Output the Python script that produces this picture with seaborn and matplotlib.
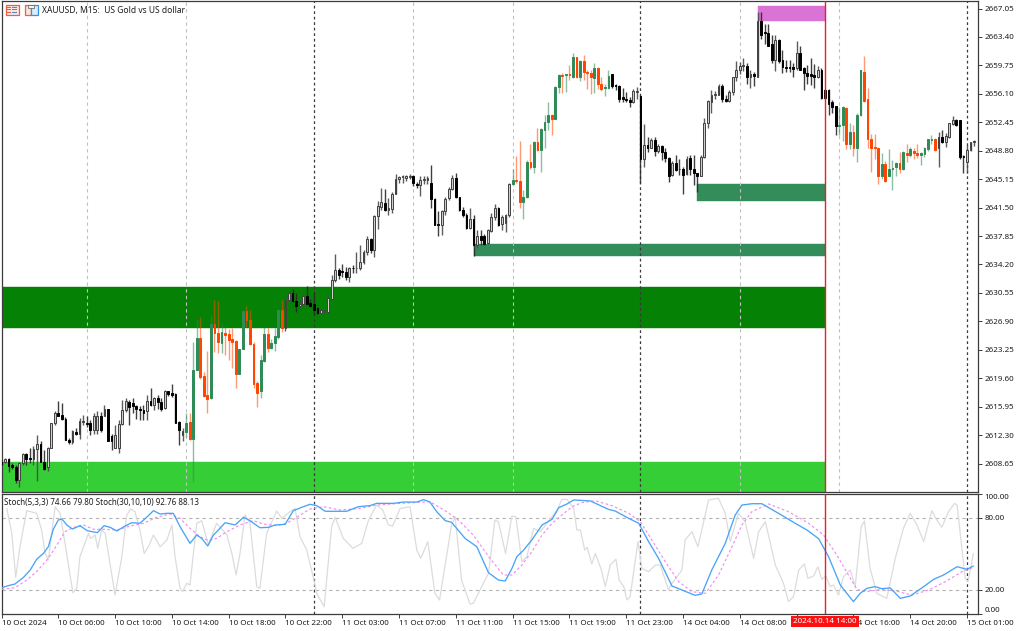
#!/usr/bin/env python3
"""XAUUSD M15 candles with supply/demand zones and two stochastics below."""

import numpy as np
import pandas as pd
import matplotlib
matplotlib.use("Agg")
import matplotlib.pyplot as plt
import seaborn as sns
from matplotlib.patches import Rectangle

# ---------- data ----------
opens = [
    2608.8,2608.9,2609.2,2608.5,2608.2,2606.6,2608.7,2609.9,2609.3,2609.2,
    2610.5,2611.2,2608.9,2608.2,2610.7,2613.8,2615.2,2614.9,2614.4,2611.7,
    2611.4,2612.7,2612.5,2614.0,2613.9,2613.8,2613.0,2613.0,2614.8,2614.8,
    2615.6,2612.2,2610.7,2610.7,2613.7,2615.5,2616.6,2616.4,2616.0,2615.7,
    2615.5,2615.4,2616.7,2616.2,2617.0,2616.6,2615.8,2617.9,2617.7,2617.6,
    2614.0,2612.3,2612.7,2614.0,2611.8,2620.7,2624.8,2619.9,2617.4,2617.0,
    2626.6,2625.4,2624.1,2625.4,2625.3,2624.6,2624.4,2620.2,2623.3,2628.2,
    2627.1,2624.0,2619.0,2617.9,2621.8,2625.3,2623.5,2624.1,2624.9,2628.4,
    2626.1,2629.6,2630.6,2629.5,2628.9,2629.1,2630.1,2629.2,2629.1,2628.6,
    2628.0,2628.1,2628.1,2629.8,2632.2,2633.5,2633.3,2633.2,2632.6,2633.8,
    2633.7,2633.8,2634.5,2635.8,2637.5,2636.0,2640.4,2641.6,2642.1,2641.2,
    2641.3,2643.3,2645.2,2645.4,2645.3,2645.4,2645.5,2644.5,2644.4,2645.1,
    2645.1,2644.6,2642.6,2639.4,2639.3,2641.0,2642.7,2643.9,2645.3,2642.8,
    2641.2,2640.5,2638.9,2640.1,2636.7,2637.8,2637.8,2636.9,2638.5,2640.3,
    2641.5,2639.4,2639.5,2640.5,2644.5,2645.0,2644.9,2642.2,2642.8,2647.4,
    2646.7,2649.9,2648.9,2651.5,2652.5,2653.4,2652.9,2657.0,2658.5,2658.5,
    2658.6,2658.3,2660.8,2658.3,2660.3,2658.9,2658.8,2658.1,2659.4,2657.3,
    2656.8,2656.9,2658.6,2657.2,2657.1,2655.7,2655.5,2655.3,2655.1,2656.4,
    2655.8,2647.8,2649.5,2649.2,2650.2,2648.8,2649.4,2648.6,2647.9,2645.7,
    2647.2,2646.5,2646.5,2645.8,2647.9,2646.4,2645.9,2645.6,2648.0,2652.3,
    2655.1,2656.0,2656.0,2657.1,2655.4,2655.2,2656.3,2658.2,2659.2,2659.7,
    2659.7,2658.3,2658.7,2658.3,2665.5,2664.0,2663.9,2662.5,2660.4,2663.0,
    2660.4,2659.6,2659.5,2659.5,2659.4,2661.4,2659.4,2658.8,2658.6,2658.5,
    2658.3,2659.2,2656.6,2656.6,2655.0,2654.5,2652.0,2652.1,2654.3,2649.7,
    2651.2,2649.1,2653.4,2658.9,2655.4,2650.3,2649.3,2649.2,2645.5,2647.1,
    2645.6,2646.5,2646.7,2647.2,2646.4,2648.5,2648.3,2648.8,2648.5,2648.2,
    2648.4,2649.0,2650.2,2650.3,2649.1,2650.5,2649.9,2650.6,2652.2,2652.7,
    2652.7,2648.1,2647.3,2648.9,2649.9,
]
highs = [
    2609.0,2609.3,2609.3,2608.7,2608.5,2608.8,2610.0,2610.0,2610.6,2610.9,
    2612.3,2611.5,2610.4,2610.8,2613.9,2615.4,2616.7,2616.4,2614.6,2611.9,
    2613.0,2613.2,2614.5,2614.9,2614.7,2614.2,2615.1,2615.4,2615.3,2616.2,
    2615.7,2612.5,2613.6,2614.2,2616.8,2617.0,2616.8,2617.1,2616.2,2616.0,
    2616.2,2617.4,2618.3,2617.2,2617.4,2617.1,2618.1,2618.0,2618.8,2617.7,
    2614.1,2613.2,2615.1,2615.2,2624.3,2627.1,2627.5,2620.4,2623.1,2627.7,
    2629.6,2629.5,2626.6,2626.2,2625.9,2626.0,2624.5,2623.4,2628.2,2628.9,
    2628.4,2624.3,2619.2,2622.6,2626.2,2626.1,2624.7,2626.1,2628.4,2629.7,
    2630.3,2630.8,2631.1,2630.5,2629.6,2630.5,2631.4,2629.8,2630.7,2628.8,
    2628.4,2628.3,2630.1,2632.8,2635.6,2633.7,2634.2,2633.9,2633.9,2634.1,
    2635.8,2636.7,2636.1,2637.9,2637.6,2640.5,2642.3,2644.0,2643.9,2642.7,
    2643.5,2645.8,2645.5,2645.7,2645.7,2645.8,2645.7,2644.8,2645.5,2645.5,
    2645.5,2647.0,2642.7,2641.0,2641.2,2642.8,2644.2,2645.7,2645.9,2642.9,
    2641.6,2640.8,2641.5,2640.5,2638.6,2638.6,2638.1,2638.7,2640.8,2642.0,
    2641.6,2640.5,2640.7,2644.6,2646.4,2648.1,2650.0,2643.7,2647.6,2649.7,
    2650.0,2651.7,2651.7,2653.4,2655.1,2653.5,2657.1,2658.6,2658.8,2658.7,
    2659.8,2661.3,2660.8,2660.4,2661.1,2659.2,2659.2,2660.0,2659.5,2658.3,
    2657.4,2659.1,2658.7,2657.4,2657.2,2656.9,2656.4,2655.7,2656.7,2657.0,
    2655.9,2652.2,2650.5,2650.4,2650.5,2649.7,2649.5,2649.1,2648.0,2647.5,
    2648.2,2647.7,2646.7,2648.1,2648.2,2648.3,2646.0,2648.2,2653.0,2655.3,
    2656.6,2656.5,2657.3,2657.3,2656.0,2656.6,2658.3,2660.3,2660.2,2660.7,
    2660.0,2659.2,2658.9,2666.6,2666.6,2665.1,2665.0,2663.7,2663.6,2663.2,
    2661.7,2660.4,2660.4,2660.1,2662.9,2662.3,2659.6,2659.8,2660.7,2659.9,
    2659.7,2659.4,2656.7,2656.7,2655.3,2654.5,2654.4,2654.5,2654.4,2652.3,
    2652.1,2653.7,2659.2,2660.9,2656.8,2650.9,2651.0,2649.3,2648.5,2647.5,
    2649.0,2647.6,2647.3,2648.6,2648.8,2649.7,2649.3,2649.1,2649.7,2648.7,
    2649.3,2650.3,2650.8,2650.4,2651.2,2651.4,2651.1,2652.4,2653.3,2652.9,
    2652.7,2648.2,2649.5,2649.9,2650.2,
]
lows = [
    2608.5,2608.7,2607.6,2608.0,2606.2,2605.7,2608.5,2608.5,2608.7,2608.5,
    2606.4,2608.8,2607.8,2607.7,2610.6,2613.6,2614.7,2614.2,2611.7,2611.2,
    2611.2,2612.3,2611.8,2613.6,2613.4,2612.3,2612.5,2612.5,2612.7,2614.7,
    2611.5,2610.4,2610.6,2610.0,2613.6,2615.3,2613.6,2615.1,2614.4,2614.2,
    2614.2,2614.2,2616.0,2615.5,2615.7,2615.4,2615.6,2617.3,2617.2,2613.8,
    2611.0,2611.5,2612.1,2611.7,2606.3,2620.6,2619.5,2617.2,2615.2,2616.9,
    2623.0,2622.8,2622.9,2622.6,2621.9,2620.9,2618.4,2620.1,2623.3,2626.2,
    2623.9,2618.4,2615.9,2617.0,2621.7,2623.0,2623.3,2623.1,2624.6,2625.5,
    2625.7,2629.4,2629.4,2628.1,2628.8,2628.9,2629.0,2628.7,2627.7,2627.8,
    2627.8,2628.0,2628.0,2629.8,2632.0,2632.4,2632.6,2632.2,2631.9,2633.1,
    2633.1,2633.5,2634.3,2635.4,2635.7,2635.2,2638.8,2641.2,2641.1,2640.5,
    2640.8,2643.2,2644.6,2644.6,2644.9,2645.2,2644.3,2644.0,2643.0,2644.5,
    2644.5,2641.4,2639.3,2637.9,2638.0,2640.5,2642.5,2643.8,2642.7,2641.0,
    2640.3,2638.8,2638.8,2635.3,2636.3,2636.7,2636.7,2636.8,2638.4,2639.9,
    2639.2,2638.6,2638.4,2640.3,2644.4,2644.7,2641.4,2640.0,2642.7,2646.4,
    2645.9,2648.8,2646.1,2649.1,2651.5,2650.8,2652.9,2656.2,2656.2,2656.4,
    2657.9,2658.1,2658.1,2657.7,2657.9,2656.7,2656.1,2656.2,2656.7,2656.5,
    2655.8,2656.7,2656.8,2656.6,2655.0,2655.1,2655.0,2654.4,2654.9,2655.4,
    2644.6,2646.7,2648.7,2649.1,2648.1,2648.5,2647.6,2647.4,2644.8,2645.5,
    2646.2,2645.7,2643.3,2645.7,2645.7,2644.4,2643.5,2645.5,2647.9,2651.7,
    2653.6,2655.4,2655.9,2655.0,2655.0,2655.1,2656.0,2657.7,2658.7,2659.0,
    2657.4,2656.9,2657.1,2658.2,2663.2,2662.5,2662.2,2660.1,2659.0,2660.1,
    2658.8,2658.9,2658.9,2658.2,2659.2,2659.2,2656.6,2657.3,2657.2,2656.8,
    2658.1,2655.5,2655.5,2653.4,2653.6,2650.8,2650.8,2650.1,2649.0,2649.0,
    2648.1,2647.4,2653.2,2655.1,2649.1,2646.1,2647.8,2644.5,2645.2,2644.8,
    2645.5,2643.7,2645.6,2645.9,2646.3,2647.3,2648.0,2647.8,2647.9,2647.0,
    2648.0,2648.8,2649.7,2648.8,2646.7,2649.8,2649.3,2650.4,2652.1,2652.0,
    2647.8,2645.9,2645.9,2648.8,2649.4,
]
closes = [
    2608.6,2609.2,2608.3,2608.2,2606.6,2608.7,2609.9,2609.2,2609.2,2610.5,
    2611.2,2608.9,2608.0,2610.7,2613.8,2615.2,2614.8,2614.4,2611.7,2611.4,
    2612.8,2612.5,2614.1,2614.1,2613.7,2613.0,2614.8,2614.8,2613.0,2615.6,
    2611.6,2611.6,2612.3,2613.7,2615.5,2616.7,2615.9,2616.0,2615.6,2615.5,
    2615.2,2616.7,2616.2,2617.0,2616.5,2615.7,2617.9,2617.6,2617.4,2613.9,
    2613.0,2612.8,2613.9,2611.8,2620.7,2624.8,2619.8,2617.3,2616.9,2626.5,
    2625.4,2624.2,2625.5,2625.1,2624.5,2624.2,2620.2,2623.3,2628.2,2627.1,
    2624.0,2618.9,2617.7,2621.9,2625.3,2623.5,2624.1,2625.0,2628.4,2626.1,
    2629.6,2630.6,2629.5,2628.9,2629.1,2630.1,2629.1,2628.9,2628.4,2628.0,
    2628.3,2628.3,2629.9,2632.2,2633.5,2632.8,2633.2,2632.6,2633.8,2633.7,
    2633.8,2634.5,2635.8,2637.5,2636.0,2640.4,2641.7,2642.2,2641.2,2641.4,
    2643.3,2645.2,2645.4,2645.5,2645.5,2645.5,2644.6,2644.4,2645.1,2645.2,
    2645.3,2642.6,2639.3,2639.3,2641.0,2642.6,2643.9,2645.3,2642.8,2641.2,
    2640.5,2638.9,2640.1,2636.7,2637.8,2637.3,2636.8,2638.6,2640.3,2641.4,
    2639.3,2640.3,2640.5,2644.5,2645.1,2644.9,2642.2,2642.8,2647.4,2646.7,
    2649.9,2648.9,2651.6,2652.5,2653.4,2652.9,2657.0,2658.5,2658.4,2658.6,
    2658.5,2660.8,2658.3,2660.3,2658.9,2658.8,2658.2,2659.4,2657.3,2656.7,
    2657.0,2658.4,2657.1,2657.1,2655.5,2655.4,2655.3,2655.1,2656.5,2656.5,
    2647.8,2649.5,2649.2,2650.2,2648.8,2649.4,2648.7,2647.9,2645.6,2647.2,
    2646.3,2646.4,2645.7,2647.8,2646.4,2645.9,2645.6,2648.0,2652.4,2655.2,
    2656.0,2656.1,2657.1,2655.4,2655.2,2656.3,2658.2,2659.2,2659.7,2659.8,
    2658.3,2658.7,2658.4,2665.4,2663.7,2663.9,2662.3,2660.4,2663.0,2660.3,
    2659.6,2659.4,2659.4,2659.3,2661.4,2659.2,2658.8,2658.4,2658.4,2658.3,
    2659.2,2655.6,2655.6,2654.8,2654.4,2652.0,2652.1,2654.4,2649.7,2651.2,
    2649.1,2653.4,2659.1,2655.2,2650.3,2649.2,2649.2,2645.5,2647.1,2644.9,
    2646.5,2646.6,2647.2,2646.4,2648.6,2648.3,2649.0,2648.5,2648.3,2648.5,
    2649.1,2650.3,2650.3,2648.9,2650.5,2649.9,2650.7,2652.3,2652.7,2652.1,
    2648.0,2648.0,2648.9,2649.9,2650.0,
]
session_spans = [(52, 79), (144, 171), (236, 263)]

# zones: first bar, last bar, low, high, colour
zone_first = [0, 0, 133, 196, 213]
zone_last = [232, 232, 232, 232, 232]
zone_low = [2604.0, 2626.1, 2635.3, 2642.3, 2665.4]
zone_high = [2608.9, 2631.3, 2636.8, 2644.5, 2667.4]
zone_colors = ["#32cd32", "#008000", "#2e8b57", "#2e8b57", "#da70d6"]

main_bars = [
    0.1,1.5,3.8,6.2,8.1,9.9,11.8,13.2,14.6,16,17,18.4,20,22.1,24.2,27,28.9,30.6,32.5,34.8,
    36.7,39,40.9,42.8,44.7,46.6,48.4,50.3,53.1,55,56.4,58.1,59.7,61.1,63,65.8,68.2,70,72.8,
    75.2,77.1,79.9,82.2,84.6,86.9,88.8,91.2,97.3,100.5,103.8,105.7,110.4,113.2,117,118.9,
    120.7,122.6,125,126.8,130.6,133.9,137.2,140,141.9,143.8,145.2,147.1,149.4,152.3,155.1,
    157,159.3,161.2,165.9,171,172.9,176.7,179.5,182.3,185.1,188.9,191.7,195.4,197.3,200.1,
    203.9,206.7,208.6,211.4,214.2,218.9,223.6,226.9,230.2,233,236.3,240,241.9,243.8,246.1,
    248,250.4,253.2,256,259.8,262.6,265.4,269.2,272,273.8,
]
main_values = [
    21.9,23.3,25,30.5,36.7,45.6,50.5,56.1,70.6,78.3,79.2,74.2,70.8,73.6,69.4,67.8,73.6,72.2,69.2,73.3,
    76.1,75.6,80.6,86.1,83.3,83.9,83.9,72.8,58.9,65.8,63,56.7,65.8,70,76.1,74.2,80.6,77.8,71.9,
    72.2,74.2,74.7,86.1,88.9,91.4,90.3,85.6,85.6,89.4,90.3,92.2,92.2,93.3,93.3,95.3,
    93.3,85.3,77.8,76.4,63,56.1,34.4,28.3,27.5,38,47.8,53.3,61.7,74.2,78.9,
    88.6,91.7,95,94.2,87.2,85.8,79.7,75.6,60.3,46.4,23.3,20,15.6,16.7,36.7,
    58.9,82.5,90.8,91.9,91.9,83.9,75.6,70,62.8,47.8,24.2,10.3,17.2,21.4,22.8,
    21.1,21.7,13,15,22.8,28.9,32.5,39.4,37.2,40,
]
signal_bars = [
    0.1,3.8,7.1,9.9,13.2,15.6,17.9,20.3,23.1,25.9,28.7,32.5,36.2,40,43.7,47.5,50.3,53.1,55.9,58.3,
    60.6,63.5,67.2,71,73.8,77.5,80.3,83.2,86.9,90.7,95.4,101,105.7,112.3,120.7,125.4,128.7,132.9,
    137.6,141.4,143.8,146.6,149.4,152.3,155.1,157.9,160.7,163.5,167.3,172,176.7,180,183.2,187,190.8,
    194.5,198.3,202,205.8,208.6,211.4,216.1,221.7,227.4,231.6,235.3,238.6,241,243.3,248,252.7,256.5,
    261.2,265.9,270.6,273.8,
]
signal_values = [
    20.5,21.9,28.3,35.3,46.4,57.5,68.6,72.2,74.2,70.6,70.6,70,73.3,75.6,80.6,83.3,79.7,71.4,64.4,61.1,
    63,68.6,74.2,77.8,75,73.6,75.6,80.6,87.5,89.4,86.7,88,90.8,92.2,93.6,85.3,78.3,65.8,
    46.4,32.5,32.5,40.8,51.9,65.8,75.6,82.5,89.4,92.8,94.4,90.3,83.9,76.9,61.7,43.6,26.9,
    18.6,17.2,32.5,56.1,74.2,85.3,91.7,85.3,75.6,65.8,49.2,32.5,20.5,18.6,20.5,18.6,15.8,
    20,26.9,35.3,38.9,
]
fast_bars = [
    1.5,2.9,4,5.2,7.1,9.9,11.3,12.3,13.2,15.1,16.5,17.9,20.1,21.2,22.1,24.5,25.1,26.4,27.1,28.2,29.2,
    32,33.9,35.3,36.4,37.6,39,40.2,41.4,42.8,44.7,46.6,48,48.9,50.3,51,52.2,53.1,55,56.4,58.3,60.6,
    63.5,64.9,66.1,67.2,68.6,70,71.9,72.8,74.7,77.5,79,81.3,82.7,84.1,86,88,88.8,90.9,93,94,96.3,99,
    101.5,103.4,105.7,107.4,109,110.2,112.3,115.1,117,118.1,120.1,122.1,123.4,126.8,127.8,129.6,132,
    132.9,134.8,137.2,139,140,142,143.8,144.9,146.6,148,149.9,151.8,153.7,156.5,157.9,159.3,161.2,
    162.1,163.1,164.3,165,166.3,167.3,169,170.1,171.5,173.1,174,175.3,176.2,177.1,179.3,180.4,182.3,
    184.2,185.6,187.9,188.9,191.7,192.6,194.5,196.2,199.2,202,203.9,205.3,207.6,209.5,211.9,213.3,
    215.2,218,220.3,221.7,223.1,224.6,226.2,227.2,228.8,230,231.1,232.2,233.5,234.4,235.8,237.2,239.1,
    240.5,242.2,243.1,244.7,246.6,249.4,251.8,254.1,256,257.9,259.8,262.1,263.5,264.9,266.8,268.5,
    269.2,271.5,272.3,273.8,
]
fast_values = [
    88,67.2,30.5,56.1,86.1,83.9,70,50.5,45,89.4,83.9,58.9,17.8,21.4,47.8,67.2,63,65.8,54.7,70,67.2,
    15.8,47.8,82.5,87.5,85.3,70,50.5,56.1,65.8,56.1,61.7,74.2,47.8,21.4,18.6,25.6,24.2,75.6,77.8,57.5,75.6,
    65.8,50.5,32.5,50.5,82.5,75.6,22.8,21.4,67.2,85.8,79.7,85.3,88,64.4,53.3,28.3,17.2,6.1,72.8,80.6,63,54.7,
    58.9,78.3,90.8,86.7,74.2,73.3,88,89.4,53.3,46.4,60.3,17.2,11.7,74.2,81.1,28.3,8.3,
    8.9,20,33.9,78.3,76.9,50.5,81.7,81.1,43.6,47.8,71.4,68.6,75.6,86.7,95.5,95.5,88,
    70,70,53.3,55.6,41.7,50.5,36.7,22.8,40.8,45.6,28.3,22.8,11.7,14.4,60.3,38,35.3,
    40.8,40.8,20,25.6,36.7,61.7,68.6,56.1,95,96.4,83.9,60.3,83.9,76.9,46.4,68.6,
    76.9,40.8,25.6,10.3,14.4,36.7,41.7,29.7,31.7,39.4,28.9,31.7,22.8,24.2,15.8,31.1,36.7,
    22.8,72.8,77.5,38,17.2,13,46.4,71.4,83.9,74.2,60.3,86.1,78.3,72.2,85.3,92.2,
    90.8,29.7,26.9,50.5,
]

price_ticks = [2667.05,2663.40,2659.75,2656.10,2652.45,2648.80,2645.15,2641.50,2637.85,
               2634.20,2630.55,2626.90,2623.25,2619.60,2615.95,2612.30,2608.65]
stoch_ticks = [0, 20, 80, 100]
time_ticks = list(range(0, 273, 16))
# the 12:00 tick of 14 Oct sits under the crosshair stamp, so it carries no text
time_labels = ["10 Oct 2024","10 Oct 06:00","10 Oct 10:00","10 Oct 14:00","10 Oct 18:00","10 Oct 22:00",
               "11 Oct 03:00","11 Oct 07:00","11 Oct 11:00","11 Oct 15:00","11 Oct 19:00","11 Oct 23:00",
               "14 Oct 04:00","14 Oct 08:00","","14 Oct 16:00","14 Oct 20:00","15 Oct 01:00"]
light_separators = [24, 52, 116, 144, 208, 236]
dark_separators = [88, 180, 272]
crosshair_bar = 232

# ---------- figure ----------
W, H = 1024, 631
sns.set_style("white")
plt.rcParams['font.family'] = ['Noto Sans', 'DejaVu Sans']
plt.rcParams['font.size'] = 6
TEXT = "#1c1c1c"
SPINE = "#3c3c3c"
LABEL = 5.75

fig = plt.figure(figsize=(W/100, H/100), dpi=100)
ax = fig.add_axes([1.5/W, 1 - 492/H, 976.5/W, 491.5/H])
sub = fig.add_axes([1.5/W, 1 - 614/H, 976.5/W, 120/H], sharex=ax)

df = pd.DataFrame({"open": opens, "high": highs, "low": lows, "close": closes})
df["bar"] = np.arange(len(df))
df["up"] = df["close"] >= df["open"]
df["session"] = False
for a, b in session_spans:
    df.loc[df["bar"].between(a, b), "session"] = True

# zones sit under everything else
for first, last, lo, hi, col in zip(zone_first, zone_last, zone_low, zone_high, zone_colors):
    ax.add_patch(Rectangle((first, lo), last - first, hi - lo, fc=col, ec=col, lw=0.3, alpha=0.98, zorder=1))

ax.vlines(light_separators, 0, 1, transform=ax.get_xaxis_transform(), colors="#c0c0c0", lw=0.8,
          linestyles=(0, (3, 3)), zorder=2)
for a_ in (ax, sub):
    a_.vlines(dark_separators, 0, 1, transform=a_.get_xaxis_transform(), colors="#3a3a3a", lw=0.9,
              linestyles=(0, (2.2, 2.2)), zorder=2)

# candles: (up?, session?) -> wick colour, wick alpha, face, edge
styles = {
    (True, False): ("#4a4a4a", 0.9, "#cfcfcf", "#404040"),
    (False, False): ("#2a2a2a", 0.9, "#000000", "#000000"),
    (True, True): ("#2e8b57", 0.55, "#2e8b57", "#2e8b57"),
    (False, True): ("#ff4500", 0.55, "#ff4500", "#ff4500"),
}
for (up, session), part in df.groupby(["up", "session"]):
    wick, wick_alpha, face, edge = styles[(up, session)]
    ax.vlines(part["bar"], part["low"], part["high"], colors=wick, lw=1.0, alpha=wick_alpha, zorder=3)
    bottom = part[["open", "close"]].min(axis=1)
    height = (part["close"] - part["open"]).abs()
    ax.bar(part["bar"], height, bottom=bottom, width=0.5, color=face, edgecolor=edge, lw=0.7, zorder=4)

# stochastics
sub.axhline(80, color="#b4b4b4", lw=0.8, ls=(0, (3, 3)), zorder=1)
sub.axhline(20, color="#b4b4b4", lw=0.8, ls=(0, (3, 3)), zorder=1)
sns.lineplot(x=fast_bars, y=fast_values, ax=sub, color="#dcdcdc", lw=0.9, sort=False, estimator=None, zorder=2)
sns.lineplot(x=signal_bars, y=signal_values, ax=sub, color="#f08cf0", lw=0.85, sort=False, estimator=None,
             linestyle=(0, (2.2, 2)), zorder=3)
sns.lineplot(x=main_bars, y=main_values, ax=sub, color="#48a4f8", lw=0.95, sort=False, estimator=None, zorder=4)

for a_ in (ax, sub):
    a_.axvline(crosshair_bar, color="#f01c24", lw=1.0, zorder=6)

# axes
ax.set_xlim(0, 275.1)
ax.set_ylim(2605.0, 2668.08)
sub.set_ylim(0, 100)
for a_ in (ax, sub):
    a_.yaxis.tick_right()
    a_.grid(False)
    a_.set_xlabel("")
    a_.set_ylabel("")
    for s in a_.spines.values():
        s.set_visible(True)
        s.set_color(SPINE)
        s.set_linewidth(0.9)
    a_.tick_params(axis='y', length=3, width=0.7, color=SPINE, labelsize=LABEL, labelcolor=TEXT, pad=1.5,
                   right=True, left=False)

ax.set_yticks(price_ticks)
ax.set_yticklabels([f"{p:.2f}" for p in price_ticks])
sub.set_yticks(stoch_ticks)
sub.set_yticklabels([f"{s:.2f}" for s in stoch_ticks])
for lab, tick in zip(sub.get_yticklabels(), stoch_ticks):
    if tick == 100:
        lab.set_va("top")
    elif tick == 0:
        lab.set_va("bottom")

ax.tick_params(axis='x', bottom=False, labelbottom=False)
sub.set_xticks(time_ticks)
sub.set_xticklabels(time_labels, ha="left")
sub.tick_params(axis='x', length=3, width=0.7, color=SPINE, labelsize=LABEL, labelcolor=TEXT, pad=1.5, bottom=True)

# header, indicator caption and crosshair time stamp
fig.text(41.5/W, 1 - 10/H, "XAUUSD, M15:  US Gold vs US dollar", fontsize=6.1, color=TEXT, va="center", ha="left")
fig.text(4/W, 1 - 502.5/H, "Stoch(5,3,3) 74.66 79.80 Stoch(30,10,10) 92.76 88.13", fontsize=5.8, color=TEXT,
         va="center", ha="left")
sub.annotate("2024.10.14 14:00", xy=(crosshair_bar, 0), xycoords=("data", "axes fraction"),
             xytext=(0, -7.5), textcoords="offset pixels", ha="center", va="center", color="white", fontsize=LABEL,
             bbox=dict(boxstyle="square,pad=0.3", fc="#ff1010", ec="none"), zorder=10, annotation_clip=False)

# two toolbar icons in the header
def px_rect(x, y, w, h, **kw):
    fig.add_artist(Rectangle((x/W, 1 - (y + h)/H), w/W, h/H, transform=fig.transFigure, **kw))

px_rect(5.5, 4.5, 13, 10.5, fc="#fbe4dc", ec="#e8604c", lw=0.9)
for yy in (7, 9.5, 12):
    px_rect(7, yy, 4, 0.9, fc="#e8604c", ec="none")
    px_rect(12, yy, 5, 0.9, fc="#3a8fd8", ec="none")
px_rect(24.5, 4.5, 6, 10.5, fc="#fbe4dc", ec="#e8604c", lw=0.9)
px_rect(31, 4.5, 6.5, 10.5, fc="#d8ecfa", ec="#3a8fd8", lw=0.9)
px_rect(28, 4.5, 6, 3, fc="#f2f2f2", ec="#707070", lw=0.6)

fig.savefig("out.png", dpi=100)
